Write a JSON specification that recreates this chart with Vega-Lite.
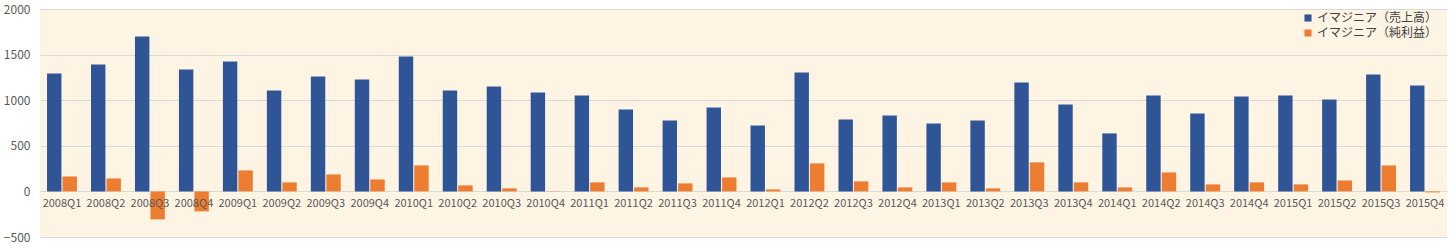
{
  "$schema": "https://vega.github.io/schema/vega-lite/v6.json",
  "autosize": "none",
  "width": 1407,
  "height": 228,
  "padding": {"left": 40, "top": 9, "right": 9, "bottom": 11},
  "background": "#ffffff",
  "config": {
    "view": {"fill": "#FEF4E4", "stroke": null},
    "font": "Noto Sans CJK JP"
  },
  "data": {
    "values": [
      {"q": "2008Q1", "s": "イマジニア（売上高）", "v": 1293},
      {"q": "2008Q2", "s": "イマジニア（売上高）", "v": 1392},
      {"q": "2008Q3", "s": "イマジニア（売上高）", "v": 1699},
      {"q": "2008Q4", "s": "イマジニア（売上高）", "v": 1337},
      {"q": "2009Q1", "s": "イマジニア（売上高）", "v": 1425},
      {"q": "2009Q2", "s": "イマジニア（売上高）", "v": 1107},
      {"q": "2009Q3", "s": "イマジニア（売上高）", "v": 1260},
      {"q": "2009Q4", "s": "イマジニア（売上高）", "v": 1227},
      {"q": "2010Q1", "s": "イマジニア（売上高）", "v": 1480},
      {"q": "2010Q2", "s": "イマジニア（売上高）", "v": 1107},
      {"q": "2010Q3", "s": "イマジニア（売上高）", "v": 1151},
      {"q": "2010Q4", "s": "イマジニア（売上高）", "v": 1085},
      {"q": "2011Q1", "s": "イマジニア（売上高）", "v": 1052},
      {"q": "2011Q2", "s": "イマジニア（売上高）", "v": 899},
      {"q": "2011Q3", "s": "イマジニア（売上高）", "v": 778},
      {"q": "2011Q4", "s": "イマジニア（売上高）", "v": 920},
      {"q": "2012Q1", "s": "イマジニア（売上高）", "v": 723},
      {"q": "2012Q2", "s": "イマジニア（売上高）", "v": 1304},
      {"q": "2012Q3", "s": "イマジニア（売上高）", "v": 789},
      {"q": "2012Q4", "s": "イマジニア（売上高）", "v": 833},
      {"q": "2013Q1", "s": "イマジニア（売上高）", "v": 745},
      {"q": "2013Q2", "s": "イマジニア（売上高）", "v": 778},
      {"q": "2013Q3", "s": "イマジニア（売上高）", "v": 1195},
      {"q": "2013Q4", "s": "イマジニア（売上高）", "v": 953},
      {"q": "2014Q1", "s": "イマジニア（売上高）", "v": 636},
      {"q": "2014Q2", "s": "イマジニア（売上高）", "v": 1052},
      {"q": "2014Q3", "s": "イマジニア（売上高）", "v": 855},
      {"q": "2014Q4", "s": "イマジニア（売上高）", "v": 1041},
      {"q": "2015Q1", "s": "イマジニア（売上高）", "v": 1052},
      {"q": "2015Q2", "s": "イマジニア（売上高）", "v": 1008},
      {"q": "2015Q3", "s": "イマジニア（売上高）", "v": 1282},
      {"q": "2015Q4", "s": "イマジニア（売上高）", "v": 1162},
      {"q": "2008Q1", "s": "イマジニア（純利益）", "v": 164},
      {"q": "2008Q2", "s": "イマジニア（純利益）", "v": 142},
      {"q": "2008Q3", "s": "イマジニア（純利益）", "v": -307},
      {"q": "2008Q4", "s": "イマジニア（純利益）", "v": -219},
      {"q": "2009Q1", "s": "イマジニア（純利益）", "v": 230},
      {"q": "2009Q2", "s": "イマジニア（純利益）", "v": 99},
      {"q": "2009Q3", "s": "イマジニア（純利益）", "v": 186},
      {"q": "2009Q4", "s": "イマジニア（純利益）", "v": 131},
      {"q": "2010Q1", "s": "イマジニア（純利益）", "v": 285},
      {"q": "2010Q2", "s": "イマジニア（純利益）", "v": 66},
      {"q": "2010Q3", "s": "イマジニア（純利益）", "v": 33},
      {"q": "2010Q4", "s": "イマジニア（純利益）", "v": 2},
      {"q": "2011Q1", "s": "イマジニア（純利益）", "v": 99},
      {"q": "2011Q2", "s": "イマジニア（純利益）", "v": 44},
      {"q": "2011Q3", "s": "イマジニア（純利益）", "v": 88},
      {"q": "2011Q4", "s": "イマジニア（純利益）", "v": 153},
      {"q": "2012Q1", "s": "イマジニア（純利益）", "v": 22},
      {"q": "2012Q2", "s": "イマジニア（純利益）", "v": 307},
      {"q": "2012Q3", "s": "イマジニア（純利益）", "v": 110},
      {"q": "2012Q4", "s": "イマジニア（純利益）", "v": 44},
      {"q": "2013Q1", "s": "イマジニア（純利益）", "v": 99},
      {"q": "2013Q2", "s": "イマジニア（純利益）", "v": 33},
      {"q": "2013Q3", "s": "イマジニア（純利益）", "v": 318},
      {"q": "2013Q4", "s": "イマジニア（純利益）", "v": 99},
      {"q": "2014Q1", "s": "イマジニア（純利益）", "v": 44},
      {"q": "2014Q2", "s": "イマジニア（純利益）", "v": 208},
      {"q": "2014Q3", "s": "イマジニア（純利益）", "v": 77},
      {"q": "2014Q4", "s": "イマジニア（純利益）", "v": 99},
      {"q": "2015Q1", "s": "イマジニア（純利益）", "v": 77},
      {"q": "2015Q2", "s": "イマジニア（純利益）", "v": 120},
      {"q": "2015Q3", "s": "イマジニア（純利益）", "v": 285},
      {"q": "2015Q4", "s": "イマジニア（純利益）", "v": -11}
    ]
  },
  "mark": {"type": "bar"},
  "encoding": {
    "x": {
      "field": "q",
      "type": "nominal",
      "sort": null,
      "scale": {"paddingInner": 0.32, "paddingOuter": 0.16},
      "axis": {
        "title": null,
        "offset": -46,
        "domain": false,
        "ticks": false,
        "labelAngle": 0,
        "labelPadding": 6,
        "labelFontSize": 11,
        "labelColor": "#595959",
        "labelFont": "Noto Sans CJK JP",
        "zindex": 1
      }
    },
    "xOffset": {
      "field": "s",
      "type": "nominal",
      "sort": ["イマジニア（売上高）", "イマジニア（純利益）"],
      "scale": {"paddingInner": 0.07}
    },
    "y": {
      "field": "v",
      "type": "quantitative",
      "scale": {"domain": [-500, 2000], "nice": false},
      "axis": {
        "title": null,
        "values": [-500, 0, 500, 1000, 1500, 2000],
        "format": "d",
        "domain": false,
        "ticks": false,
        "labelPadding": 10,
        "labelFontSize": 12,
        "labelColor": "#595959",
        "gridColor": "#D9D9D9",
        "gridWidth": 1
      }
    },
    "color": {
      "field": "s",
      "type": "nominal",
      "sort": ["イマジニア（売上高）", "イマジニア（純利益）"],
      "scale": {
        "domain": ["イマジニア（売上高）", "イマジニア（純利益）"],
        "range": ["#2F5597", "#ED7D31"]
      },
      "legend": {
        "title": null,
        "orient": "none",
        "legendX": 1262,
        "legendY": 3,
        "symbolType": "square",
        "symbolSize": 50,
        "symbolStrokeWidth": 0,
        "labelFontSize": 12,
        "labelColor": "#404040",
        "labelOffset": 3,
        "rowPadding": 3
      }
    }
  }
}
